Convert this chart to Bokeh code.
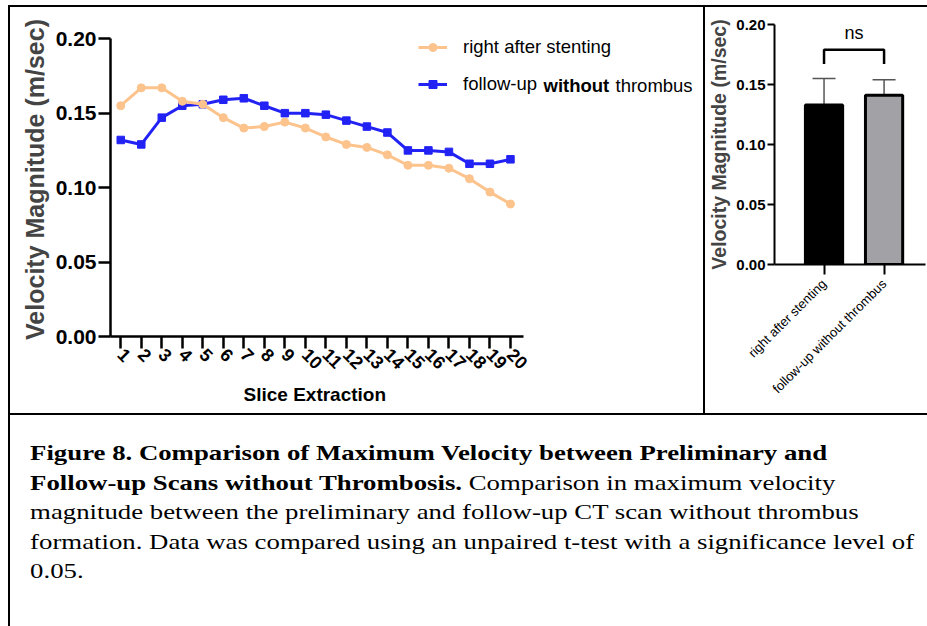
import math
from bokeh.plotting import figure
from bokeh.models import (Legend, LegendItem, Label, Whisker, TeeHead, Title,
                          ColumnDataSource, Div, Range1d, FixedTicker)
from bokeh.layouts import row, column
from bokeh.embed import file_html
from bokeh.resources import INLINE

# ---------------- data ----------------
slices = list(range(1, 21))
slice_labels = [str(s) for s in slices]
right_after = [0.155, 0.167, 0.167, 0.158, 0.156, 0.147, 0.140, 0.141, 0.144, 0.140,
               0.134, 0.129, 0.127, 0.122, 0.115, 0.115, 0.113, 0.106, 0.097, 0.089]
followup = [0.132, 0.129, 0.147, 0.155, 0.156, 0.159, 0.160, 0.155, 0.150, 0.150,
            0.149, 0.145, 0.141, 0.137, 0.125, 0.125, 0.124, 0.116, 0.116, 0.119]

groups = ["right after stenting", "follow-up without thrombus"]
group_pos = [1, 2]
bar_means = [0.133, 0.141]
bar_upper = [0.155, 0.154]
bar_colors = ["#000000", "#a2a2a6"]
bracket_y = 0.179
bracket_leg = 0.167
y_ticks = [0.0, 0.05, 0.10, 0.15, 0.20]
y_tick_labels = ["0.00", "0.05", "0.10", "0.15", "0.20"]

SANS = "Liberation Sans"
ORANGE = "#fcc38c"
BLUE = "#2222f5"

# ---------------- line chart ----------------
# The frame is larger than the drawn axes so the legend (drawn inside the frame)
# is not clipped; the axis lines themselves are limited with `bounds`.
p1 = figure(width=697, height=410, x_range=Range1d(0.5, 29.46), y_range=Range1d(0, 0.2109),
            output_backend="svg", toolbar_location=None,
            min_border_left=100, min_border_right=3, min_border_top=15, min_border_bottom=81)
p1.frame_align = False
p1.outline_line_color = None
p1.grid.visible = False
p1.background_fill_color = "white"
p1.border_fill_color = "white"

lb = p1.line(slices, followup, line_color=BLUE, line_width=3)
mb = p1.scatter(slices, followup, marker="square", size=7.5, fill_color=BLUE, line_color=BLUE)
lo = p1.line(slices, right_after, line_color=ORANGE, line_width=3)
mo = p1.scatter(slices, right_after, marker="circle", size=8, fill_color=ORANGE, line_color=ORANGE)

ya = p1.yaxis[0]
ya.bounds = (0, 0.2)
ya.ticker = FixedTicker(ticks=y_ticks)
ya.major_label_overrides = dict(zip(y_ticks, y_tick_labels))
ya.axis_line_width = 2.5
ya.major_tick_line_width = 2.5
ya.major_tick_out = 12
ya.major_tick_in = 0
ya.minor_tick_out = 0
ya.minor_tick_in = 0
ya.major_label_standoff = 2
ya.major_label_text_font = SANS
ya.major_label_text_font_style = "bold"
ya.major_label_text_font_size = "21px"
ya.major_label_text_color = "black"
ya.axis_label = "Velocity Magnitude (m/sec)"
ya.axis_label_text_font = SANS
ya.axis_label_text_font_style = "bold"
ya.axis_label_text_font_size = "25px"
ya.axis_label_standoff = 4

xa = p1.xaxis[0]
xa.bounds = (0.5, 20.64)
xa.ticker = FixedTicker(ticks=slices)
xa.major_label_overrides = dict(zip(slices, slice_labels))
xa.major_label_orientation = -math.pi / 4
xa.major_label_standoff = 3
xa.major_label_text_font = SANS
xa.major_label_text_font_style = "bold"
xa.major_label_text_font_size = "18px"
xa.major_label_text_color = "black"
xa.axis_line_width = 2.5
xa.major_tick_line_width = 2.5
xa.major_tick_out = 12
xa.major_tick_in = 0
xa.minor_tick_out = 0
xa.minor_tick_in = 0

p1.add_layout(Title(text="Slice  Extraction", align="left", offset=133, standoff=8,
                    text_font=SANS, text_font_style="bold", text_font_size="19px",
                    text_color="black"), "below")

legend = Legend(items=[LegendItem(label=groups[0], renderers=[lo, mo]),
                       LegendItem(label="follow-up", renderers=[lb, mb])],
                location=(308, 241), orientation="vertical",
                glyph_width=29, glyph_height=20, label_height=20, label_standoff=16,
                spacing=15, padding=0, margin=0, border_line_color=None,
                background_fill_alpha=0, label_text_font=SANS, label_text_font_size="18.5px",
                label_text_color="black")
p1.add_layout(legend, "center")
p1.add_layout(Label(x=433, y=251, x_units="screen", y_units="screen", text="without",
                    text_font=SANS, text_font_style="bold", text_font_size="18.5px",
                    text_baseline="middle", text_color="black"))
p1.add_layout(Label(x=505, y=251, x_units="screen", y_units="screen", text="thrombus",
                    text_font=SANS, text_font_size="18.5px",
                    text_baseline="middle", text_color="black"))

# ---------------- bar chart ----------------
p2 = figure(width=222, height=410, x_range=Range1d(0.175, 2.69), y_range=Range1d(0, 0.2),
            output_backend="svg", toolbar_location=None,
            min_border_left=67, min_border_right=2, min_border_top=17, min_border_bottom=153)
p2.frame_align = False
p2.outline_line_color = None
p2.grid.visible = False
p2.border_fill_color = "white"

bsrc = ColumnDataSource(dict(x=group_pos, top=bar_means, upper=bar_upper, color=bar_colors))
p2.vbar(x="x", top="top", width=0.62, source=bsrc, fill_color="color",
        line_color="black", line_width=3)
p2.add_layout(Whisker(base="x", upper="upper", lower="top", source=bsrc,
                      line_color="#555555", line_width=1.5, lower_head=None,
                      upper_head=TeeHead(size=23, line_color="#555555", line_width=1.5)))
p2.multi_line(xs=[[group_pos[0], group_pos[0], group_pos[1], group_pos[1]]],
              ys=[[bracket_leg, bracket_y, bracket_y, bracket_leg]],
              line_color="black", line_width=2.5)
p2.add_layout(Label(x=(group_pos[0] + group_pos[1]) / 2, y=0.193, text="ns",
                    text_align="center", text_baseline="middle", text_font=SANS,
                    text_font_size="18px", text_color="black"))

ya2 = p2.yaxis[0]
ya2.ticker = FixedTicker(ticks=y_ticks)
ya2.major_label_overrides = dict(zip(y_ticks, y_tick_labels))
ya2.axis_line_width = 2
ya2.major_tick_line_width = 2
ya2.major_tick_out = 7
ya2.major_tick_in = 0
ya2.minor_tick_out = 0
ya2.minor_tick_in = 0
ya2.major_label_standoff = 2
ya2.major_label_text_font = SANS
ya2.major_label_text_font_style = "bold"
ya2.major_label_text_font_size = "15px"
ya2.major_label_text_color = "black"
ya2.axis_label = "Velocity Magnitude (m/sec)"
ya2.axis_label_text_font = SANS
ya2.axis_label_text_font_style = "bold"
ya2.axis_label_text_font_size = "19.5px"
ya2.axis_label_standoff = 3

xa2 = p2.xaxis[0]
xa2.ticker = FixedTicker(ticks=group_pos)
xa2.major_label_overrides = {1: groups[0], 2: groups[1]}
xa2.major_label_orientation = math.pi / 4
xa2.axis_line_width = 2
xa2.major_tick_line_width = 2
xa2.major_tick_out = 10
xa2.major_tick_in = 0
xa2.minor_tick_out = 0
xa2.minor_tick_in = 0
xa2.major_label_standoff = 7
xa2.major_label_text_font = SANS
xa2.major_label_text_font_size = "13px"
xa2.major_label_text_color = "black"

p1.styles = {"border-top": "2px solid black", "border-left": "2px solid black",
             "border-right": "2px solid black", "border-bottom": "2px solid black"}
p2.styles = {"border-top": "2px solid black", "border-bottom": "2px solid black"}

caption_html = (
    "<div style=\"font-family:'Liberation Serif','Times New Roman',serif; font-size:22px; "
    "line-height:29.5px; color:black; padding-left:16.5px; padding-top:23px; "
    "transform:scaleX(1.217); transform-origin:0 0; white-space:nowrap;\">"
    "<b>Figure 8. Comparison of Maximum Velocity between Preliminary and<br>"
    "Follow-up Scans without Thrombosis.</b> Comparison in maximum velocity<br>"
    "magnitude between the preliminary and follow-up CT scan without thrombus<br>"
    "formation. Data was compared using an unpaired t-test with a significance level of<br>"
    "0.05.</div>"
)
cap = Div(text=caption_html, width=919, height=211, margin=0,
          styles={"border-left": "2px solid black"})

root = column(row(p1, p2), cap, styles={"margin-left": "8px", "margin-top": "5px"})
open("out.html", "w").write(file_html(root, INLINE))
